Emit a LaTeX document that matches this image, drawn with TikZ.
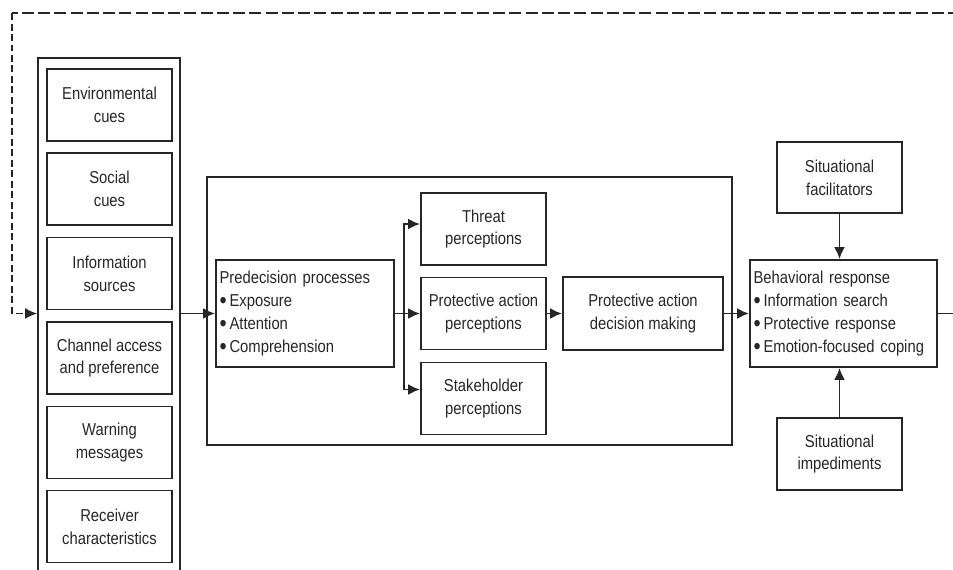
\documentclass[tikz,border=0pt]{standalone}
\usepackage{fontspec}
\setmainfont{Liberation Sans}[FakeStretch=0.86]
\usetikzlibrary{arrows.meta,calc}
\definecolor{ink}{HTML}{262626}
\newcommand{\bul}{\raisebox{-0.2ex}{\fontsize{13.5}{13}\selectfont\textbullet}\,}

\begin{document}
\begin{tikzpicture}[x=0.02cm, y=-0.02cm,
    box/.style={draw=ink, line width=1.1pt, align=center, inner sep=2pt,
      font=\fontsize{9.8}{13}\selectfont, text=black!85},
    small/.style={box, minimum width=2.5cm, minimum height=1.44cm},
    list/.style={box, align=left, minimum height=2.14cm, text width=#1},
    frame/.style={draw=ink, line width=1.1pt, inner sep=0pt},
    arr/.style={draw=ink, line width=1.1pt, -{Latex[length=2.4mm,width=2.2mm]}},
    line/.style={draw=ink, line width=1.1pt},
    fb top/.style={draw=ink, line width=1.5pt, dash pattern=on 0.24cm off 0.085cm},
    fb side/.style={draw=ink, line width=0.8pt, dash pattern=on 0.14cm off 0.07cm}]
  \path[use as bounding box, clip] (0,0) rectangle (953,569);

  % Frames
  \node[frame, minimum width=2.84cm, minimum height=10.5cm] (inputs) at (109,320) {};
  \node[frame, minimum width=10.5cm, minimum height=5.36cm] (core) at (469.5,311) {};

  % Input factors
  \foreach \y/\t [count=\i] in {105/{Environmental\\cues}, 189/{Social\\cues},
      273.5/{Information\\sources}, 358/{Channel access\\and preference},
      442.5/{Warning\\messages}, 526.5/{Receiver\\characteristics}} {
    \node[small] (cue\i) at (109.5,\y) {\t};
  };

  % Decision process
  \node[list=3.42cm] (predec) at (305,313.5) {Predecision processes\\
    \bul Exposure\\ \bul Attention\\ \bul Comprehension};
  \node[small] (threat) at (483.5,229) {Threat\\perceptions};
  \node[small] (pap) at (483.5,313.5) {Protective action\\perceptions};
  \node[small] (stake) at (483.5,398.5) {Stakeholder\\perceptions};
  \node[small, minimum width=3.2cm, minimum height=1.46cm] (decide) at (643,313.5)
    {Protective action\\decision making};

  % Response
  \node[list=3.6cm] (behav) at (843.5,313.5) {Behavioral response\\
    \bul Information search\\ \bul Protective response\\
    \bul Emotion-focused coping};
  \node[small, minimum height=1.42cm] (facil) at (839.5,177.5) {Situational\\facilitators};
  \node[small] (imped) at (839.5,454) {Situational\\impediments};

  % Arrows
  \coordinate (fork) at ($(predec.east)+(9,0)$);
  \coordinate (exit) at (960,313.5);
  \coordinate (fbR) at (960,13);
  \coordinate (fbL) at (12,13);
  \draw[arr] (inputs.east |- predec.west) -- (predec.west);
  \draw[arr] (predec.east) -- (pap.west);
  \draw[arr] (fork) |- ($(threat.west)+(0,-5)$);
  \draw[arr] (fork) |- ($(stake.west)+(0,-9)$);
  \draw[arr] (pap) -- (decide);
  \draw[arr] (decide) -- (behav);
  \draw[arr] (facil) -- (facil |- behav.north);
  \draw[arr] (imped) -- (imped |- behav.south);
  \draw[line] (behav.east) -- (exit);

  % Feedback
  \draw[fb top] (fbR) -- (fbL);
  \draw[fb side, -{Latex[length=2.4mm,width=2.2mm]}] (fbL) |- (inputs.west |- predec.west);
\end{tikzpicture}
\end{document}
